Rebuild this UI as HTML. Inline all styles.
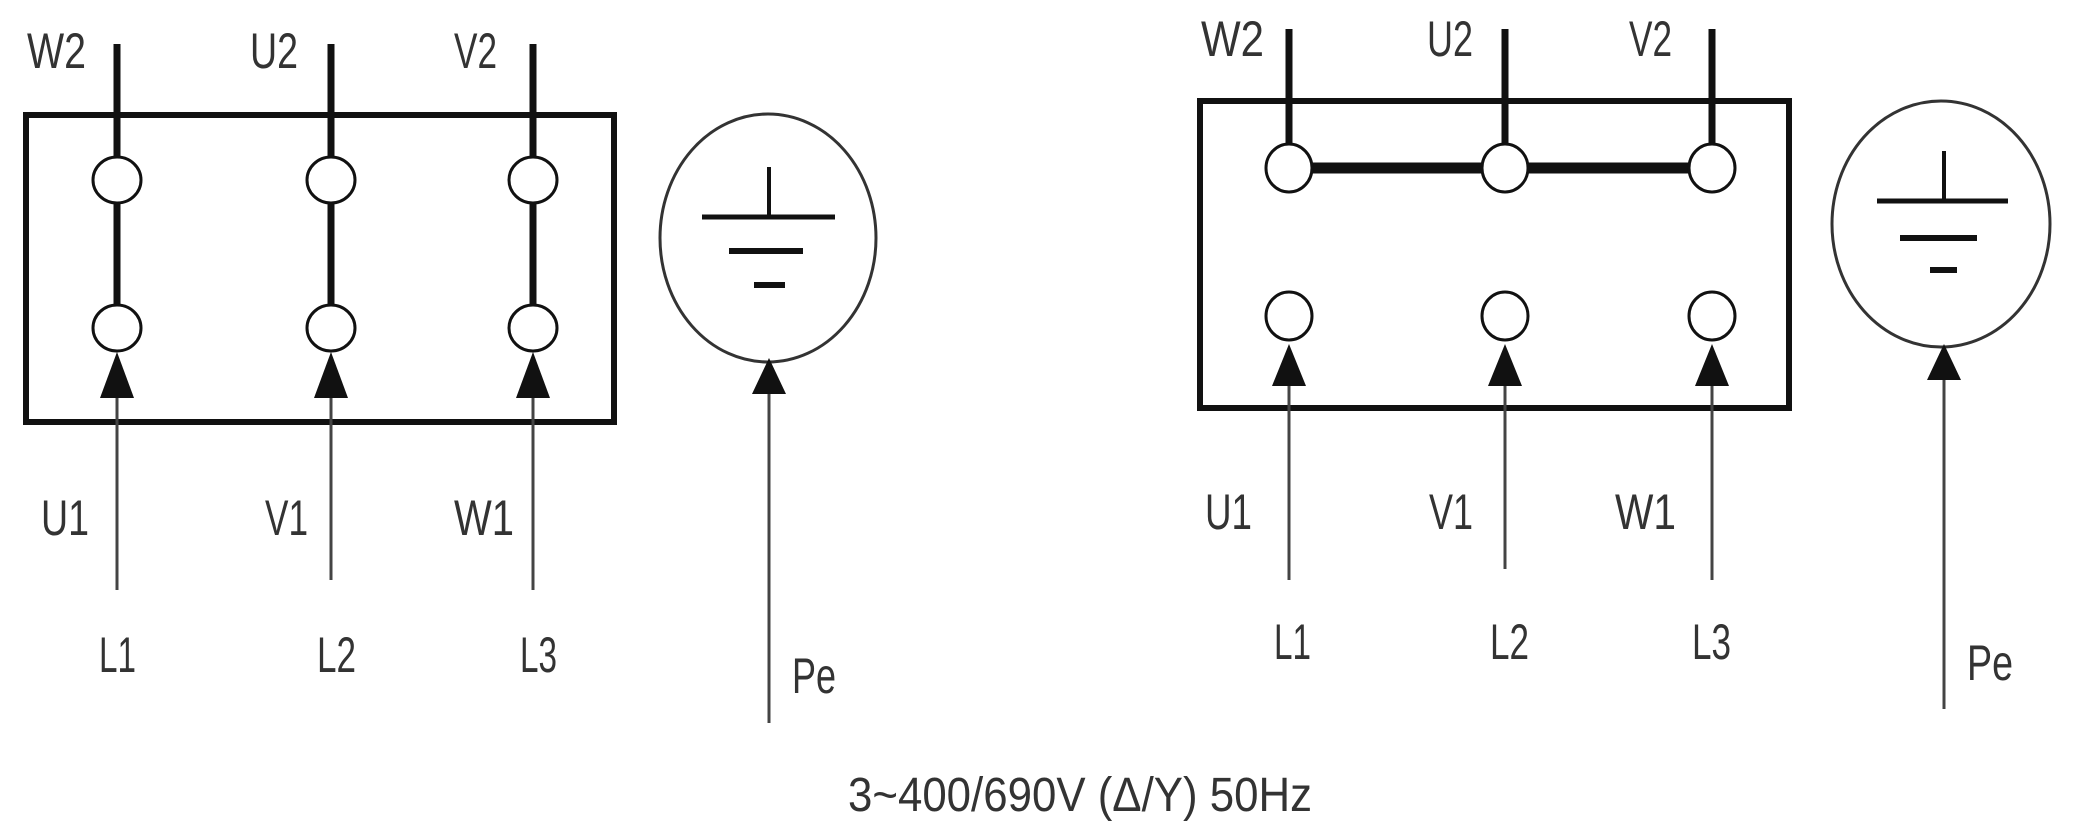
<!DOCTYPE html>
<html><head><meta charset="utf-8"><style>html,body{margin:0;padding:0;background:#fff}svg{display:block}</style></head>
<body>
<svg width="2078" height="830" viewBox="0 0 2078 830" xmlns="http://www.w3.org/2000/svg" font-family="Liberation Sans, sans-serif" fill="#333" font-size="50">
<defs>
<marker id="a" markerWidth="10" markerHeight="10" refX="5" refY="0" orient="auto"></marker>
</defs>
<!-- LEFT -->
<g stroke="#111" fill="none">
<rect x="26" y="115" width="588" height="307" stroke-width="6"/>
<g stroke-width="7">
<line x1="117" y1="44" x2="117" y2="156"/><line x1="331" y1="44" x2="331" y2="156"/><line x1="533" y1="44" x2="533" y2="156"/>
<line x1="117" y1="200" x2="117" y2="306"/><line x1="331" y1="200" x2="331" y2="306"/><line x1="533" y1="200" x2="533" y2="306"/>
</g>
<g stroke-width="3" fill="#fff">
<ellipse cx="117" cy="180" rx="24" ry="23"/><ellipse cx="331" cy="180" rx="24" ry="23"/><ellipse cx="533" cy="180" rx="24" ry="23"/>
<ellipse cx="117" cy="328" rx="24" ry="23"/><ellipse cx="331" cy="328" rx="24" ry="23"/><ellipse cx="533" cy="328" rx="24" ry="23"/>
</g>
<g stroke="#444" stroke-width="3">
<line x1="117" y1="395" x2="117" y2="590"/><line x1="331" y1="395" x2="331" y2="580"/><line x1="533" y1="395" x2="533" y2="590"/>
<line x1="769" y1="390" x2="769" y2="723"/>
</g>
<ellipse cx="768" cy="238" rx="108" ry="124" stroke="#333" stroke-width="3"/>
<line x1="769" y1="167" x2="769" y2="217" stroke-width="4"/>
<line x1="702" y1="217" x2="835" y2="217" stroke-width="5"/>
<line x1="729" y1="251" x2="803" y2="251" stroke-width="6"/>
<line x1="754" y1="285" x2="785" y2="285" stroke-width="6"/>
</g>
<g fill="#111">
<polygon points="117,352 100,398 134,398"/><polygon points="331,352 314,398 348,398"/><polygon points="533,352 516,398 550,398"/>
<polygon points="769,358 752,394 786,394"/>
</g>
<g>
<text x="27" y="68" textLength="59" lengthAdjust="spacingAndGlyphs">W2</text>
<text x="250" y="68" textLength="48" lengthAdjust="spacingAndGlyphs">U2</text>
<text x="454" y="68" textLength="43" lengthAdjust="spacingAndGlyphs">V2</text>
<text x="41" y="535" textLength="48" lengthAdjust="spacingAndGlyphs">U1</text>
<text x="265" y="535" textLength="43" lengthAdjust="spacingAndGlyphs">V1</text>
<text x="454" y="535" textLength="60" lengthAdjust="spacingAndGlyphs">W1</text>
<text x="99" y="672" textLength="37" lengthAdjust="spacingAndGlyphs">L1</text>
<text x="317" y="672" textLength="39" lengthAdjust="spacingAndGlyphs">L2</text>
<text x="520" y="672" textLength="37" lengthAdjust="spacingAndGlyphs">L3</text>
<text x="792" y="693" textLength="44" lengthAdjust="spacingAndGlyphs">Pe</text>
</g>
<!-- RIGHT -->
<g stroke="#111" fill="none">
<rect x="1200" y="101" width="589" height="307" stroke-width="6"/>
<g stroke-width="7">
<line x1="1289" y1="29" x2="1289" y2="145"/><line x1="1505" y1="29" x2="1505" y2="145"/><line x1="1712" y1="29" x2="1712" y2="145"/>
</g>
<line x1="1289" y1="168" x2="1712" y2="168" stroke-width="11"/>
<g stroke-width="3" fill="#fff">
<ellipse cx="1289" cy="168" rx="23" ry="24"/><ellipse cx="1505" cy="168" rx="23" ry="24"/><ellipse cx="1712" cy="168" rx="23" ry="24"/>
<ellipse cx="1289" cy="316" rx="23" ry="24"/><ellipse cx="1505" cy="316" rx="23" ry="24"/><ellipse cx="1712" cy="316" rx="23" ry="24"/>
</g>
<g stroke="#444" stroke-width="3">
<line x1="1289" y1="380" x2="1289" y2="580"/><line x1="1505" y1="380" x2="1505" y2="569"/><line x1="1712" y1="380" x2="1712" y2="580"/>
<line x1="1944" y1="375" x2="1944" y2="709"/>
</g>
<ellipse cx="1941" cy="224" rx="109" ry="123" stroke="#333" stroke-width="3"/>
<line x1="1944" y1="151" x2="1944" y2="201" stroke-width="4"/>
<line x1="1877" y1="201" x2="2008" y2="201" stroke-width="5"/>
<line x1="1900" y1="238" x2="1977" y2="238" stroke-width="6"/>
<line x1="1930" y1="270" x2="1957" y2="270" stroke-width="6"/>
</g>
<g fill="#111">
<polygon points="1289,344 1272,386 1306,386"/><polygon points="1505,344 1488,386 1522,386"/><polygon points="1712,344 1695,386 1729,386"/>
<polygon points="1944,344 1927,380 1961,380"/>
</g>
<g>
<text x="1201" y="56" textLength="63" lengthAdjust="spacingAndGlyphs">W2</text>
<text x="1427" y="56" textLength="46" lengthAdjust="spacingAndGlyphs">U2</text>
<text x="1629" y="56" textLength="43" lengthAdjust="spacingAndGlyphs">V2</text>
<text x="1205" y="529" textLength="47" lengthAdjust="spacingAndGlyphs">U1</text>
<text x="1429" y="529" textLength="44" lengthAdjust="spacingAndGlyphs">V1</text>
<text x="1615" y="529" textLength="61" lengthAdjust="spacingAndGlyphs">W1</text>
<text x="1274" y="659" textLength="37" lengthAdjust="spacingAndGlyphs">L1</text>
<text x="1490" y="659" textLength="39" lengthAdjust="spacingAndGlyphs">L2</text>
<text x="1692" y="659" textLength="39" lengthAdjust="spacingAndGlyphs">L3</text>
<text x="1967" y="680" textLength="46" lengthAdjust="spacingAndGlyphs">Pe</text>
</g>
<text x="848" y="811" font-size="48" textLength="464" lengthAdjust="spacingAndGlyphs">3~400/690V (Δ/Y) 50Hz</text>
</svg>
</body></html>
